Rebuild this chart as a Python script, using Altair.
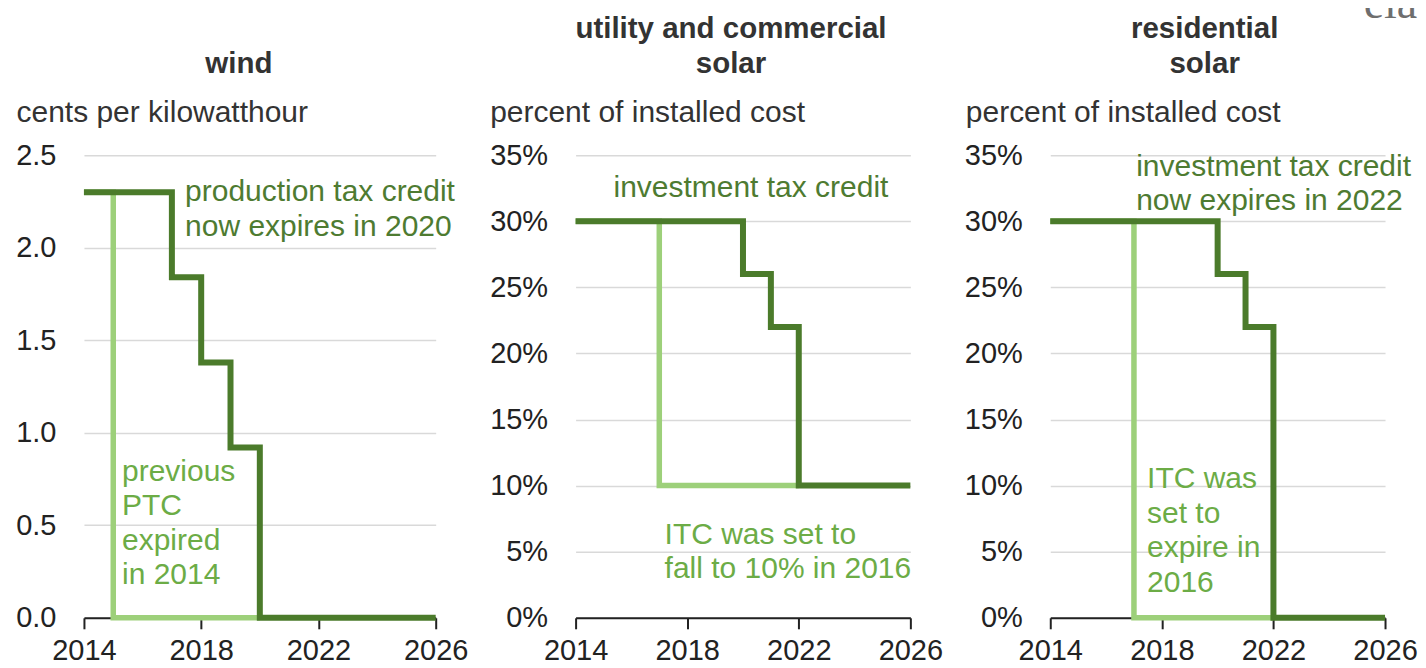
import altair as alt
import pandas as pd

FONT = "Liberation Sans"
DARK = "#4b7b2b"
LIGHT = "#9dd07a"
DARK_TXT = "#4e7b31"
LIGHT_TXT = "#6cac46"

x_ticks = [2014, 2018, 2022, 2026]

# wind (cents per kWh)
wind_now_years = [2014, 2017, 2018, 2019, 2020, 2026]
wind_now_vals = [2.3, 1.84, 1.38, 0.92, 0.0, 0.0]
wind_prev_years = [2014, 2015, 2020]
wind_prev_vals = [2.3, 0.0, 0.0]
wind_ticks = [0, 0.5, 1.0, 1.5, 2.0, 2.5]

# utility and commercial solar (share of installed cost)
util_now_years = [2014, 2020, 2021, 2022, 2026]
util_now_vals = [0.30, 0.26, 0.22, 0.10, 0.10]
util_prev_years = [2014, 2017, 2022]
util_prev_vals = [0.30, 0.10, 0.10]

# residential solar
res_now_years = [2014, 2020, 2021, 2022, 2026]
res_now_vals = [0.30, 0.26, 0.22, 0.0, 0.0]
res_prev_years = [2014, 2017, 2022]
res_prev_vals = [0.30, 0.0, 0.0]

pct_ticks = [0, 0.05, 0.10, 0.15, 0.20, 0.25, 0.30, 0.35]

# annotations: text, x (year), y (value at top of first line), colour
wind_notes = ["production tax credit\nnow expires in 2020", "previous\nPTC\nexpired\nin 2014"]
wind_note_x = [2017.45, 2015.30]
wind_note_y = [2.38, 0.87]
wind_note_c = [DARK_TXT, LIGHT_TXT]

util_notes = ["investment tax credit", "ITC was set to\nfall to 10% in 2016"]
util_note_x = [2015.36, 2017.19]
util_note_y = [0.3365, 0.0743]
util_note_c = [DARK_TXT, LIGHT_TXT]

res_notes = ["investment tax credit\nnow expires in 2022", "ITC was\nset to\nexpire in\n2016"]
res_note_x = [2017.08, 2017.47]
res_note_y = [0.3527, 0.1162]
res_note_c = [DARK_TXT, LIGHT_TXT]


def panel(now_y, now_v, prev_y, prev_v, ydom, yticks, yfmt, ytitle, title_x,
          title, title_dx, notes, nx, ny, nc, width):
    now = pd.DataFrame({"year": now_y, "v": now_v})
    prev = pd.DataFrame({"year": prev_y, "v": prev_v})
    ann = pd.DataFrame({"year": nx, "v": ny, "t": notes, "c": nc})

    xenc = alt.X("year:Q", scale=alt.Scale(domain=[2014, 2026], nice=False, zero=False),
                 axis=alt.Axis(values=x_ticks, format="d", title=None, grid=False,
                               domainColor="#222", domainWidth=2, tickColor="#222",
                               tickWidth=2, tickSize=11, labelFontSize=29,
                               labelColor="#222", labelPadding=8, labelFont=FONT,
                               labelOverlap=False, labelFlush=False))
    yenc = alt.Y("v:Q", scale=alt.Scale(domain=ydom, nice=False, zero=True),
                 axis=alt.Axis(values=yticks, format=yfmt, title=ytitle,
                               titleAngle=0, titleAlign="left", titleBaseline="middle",
                               titleX=title_x, titleY=-43, titleFontSize=30,
                               titleFontWeight="normal", titleColor="#333",
                               titleFont=FONT, labelFontSize=29, labelColor="#222",
                               labelFont=FONT, labelPadding=28, domain=False,
                               ticks=False, grid=True, gridColor="#d9d9d9",
                               gridWidth=1.5))

    prev_line = alt.Chart(prev).mark_line(interpolate="step-after", color=LIGHT,
                                          strokeWidth=5.5).encode(x=xenc, y=yenc)
    now_line = alt.Chart(now).mark_line(interpolate="step-after", color=DARK,
                                        strokeWidth=6).encode(x="year:Q", y="v:Q")
    text = alt.Chart(ann).mark_text(align="left", baseline="top", fontSize=30,
                                    font=FONT, lineBreak="\n", lineHeight=34.5).encode(
        x="year:Q", y="v:Q", text="t:N", color=alt.Color("c:N", scale=None))

    return alt.layer(prev_line, now_line, text).properties(
        width=width, height=463,
        title=alt.TitleParams(text=title, fontSize=29.5, fontWeight="bold", color="#333",
                              font=FONT, anchor="middle", frame="group", offset=18,
                              dx=title_dx, lineHeight=35))


p1 = panel(wind_now_years, wind_now_vals, wind_prev_years, wind_prev_vals,
           [0, 2.5], wind_ticks, ".1f", "cents per kilowatthour", -68,
           ["wind"], -21, wind_notes, wind_note_x, wind_note_y, wind_note_c, 352)
p2 = panel(util_now_years, util_now_vals, util_prev_years, util_prev_vals,
           [0, 0.35], pct_ticks, ".0%", "percent of installed cost", -86,
           ["utility and commercial", "solar"], -12, util_notes, util_note_x,
           util_note_y, util_note_c, 335)
p3 = panel(res_now_years, res_now_vals, res_prev_years, res_prev_vals,
           [0, 0.35], pct_ticks, ".0%", "percent of installed cost", -85,
           ["residential", "solar"], -13, res_notes, res_note_x, res_note_y,
           res_note_c, 335)

chart = alt.hconcat(
    p1, p2, p3, spacing=140, bounds="flush",
    title=alt.TitleParams(text="eia", font="Liberation Serif", fontSize=46,
                          fontWeight="normal", color="#6e6e6e", anchor="end",
                          frame="bounds", baseline="bottom", offset=0, dx=0, dy=60),
).properties(
    padding={"left": 7, "top": -28, "right": 0, "bottom": 0}
).configure(font=FONT).configure_view(stroke="transparent", strokeWidth=0)

chart.save("out.html", embed_options={"renderer": "svg", "actions": False})
